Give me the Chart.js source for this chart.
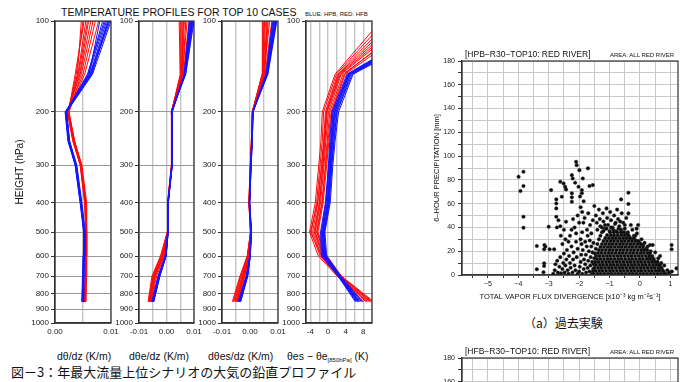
<!DOCTYPE html>
<html>
<head>
<meta charset="utf-8">
<script src="https://cdn.jsdelivr.net/npm/chart.js@4.4.1/dist/chart.umd.min.js"></script>
<style>
  body { margin:0; width:690px; height:382px; overflow:hidden; background:#fff; position:relative;
         font-family:"Liberation Sans", Arial, sans-serif; color:#111; }
  canvas { position:absolute; }
  .t { position:absolute; white-space:nowrap; line-height:1; }
  .jp { font-family:"Noto Sans CJK JP", sans-serif; }
  sub { font-size:6px; vertical-align:-2px; }
</style>
</head>
<body>
<div class="t" style="left:61px;top:7px;font-size:10.5px;">TEMPERATURE PROFILES FOR TOP 10 CASES</div>
<div class="t" style="left:305px;top:11px;font-size:6px;">BLUE: HPB, RED: HFB</div>

<canvas id="p1"></canvas>
<canvas id="p2"></canvas>
<canvas id="p3"></canvas>
<canvas id="p4"></canvas>

<div class="t" style="left:57px;top:351px;font-size:10.5px;">dθ/dz (K/m)</div>
<div class="t" style="left:129px;top:351px;font-size:10.5px;">dθe/dz (K/m)</div>
<div class="t" style="left:208px;top:351px;font-size:10.5px;">dθes/dz (K/m)</div>
<div class="t" style="left:287px;top:351px;font-size:10.5px;">θes − θe<sub>[850hPa]</sub> (K)</div>
<div class="t jp" style="left:11px;top:365px;font-size:13px;">図－3：年最大流量上位シナリオの大気の鉛直プロファイル</div>

<canvas id="s1"></canvas>
<canvas id="s2"></canvas>
<div class="t" style="left:465px;top:50px;font-size:8.5px;">[HPB−R30−TOP10: RED RIVER]</div>
<div class="t" style="left:610px;top:52px;font-size:6px;">AREA: ALL RED RIVER</div>
<div class="t jp" style="left:524px;top:317px;font-size:12px;">（a）過去実験</div>
<div class="t" style="left:465px;top:347px;font-size:8.5px;">[HFB−R30−TOP10: RED RIVER]</div>
<div class="t" style="left:610px;top:349px;font-size:6px;">AREA: ALL RED RIVER</div>

<script>
// pressure levels of the profiles (hPa)
const levels = [850, 700, 600, 500, 400, 300, 250, 200, 150, 100];
const pTicks = [100, 200, 300, 400, 500, 600, 700, 800, 900, 1000];

// d(theta)/dz
const thetaBlue = [
  [0.0049,0.0050,0.0051,0.0052,0.0046,0.0037,0.0024,0.0019,0.0062,0.0096],
  [0.0050,0.0051,0.0052,0.0053,0.0047,0.0038,0.0025,0.0020,0.0060,0.0090],
  [0.0048,0.0049,0.0050,0.0051,0.0045,0.0036,0.0023,0.0018,0.0064,0.0098],
  [0.0050,0.0050,0.0051,0.0052,0.0046,0.0038,0.0026,0.0021,0.0059,0.0085],
  [0.0049,0.0051,0.0052,0.0053,0.0047,0.0037,0.0025,0.0020,0.0066,0.0094],
  [0.0051,0.0052,0.0053,0.0054,0.0048,0.0039,0.0026,0.0020,0.0061,0.0080],
  [0.0049,0.0050,0.0051,0.0052,0.0046,0.0037,0.0024,0.0019,0.0063,0.0092],
  [0.0050,0.0051,0.0052,0.0053,0.0047,0.0038,0.0025,0.0021,0.0067,0.0100],
  [0.0048,0.0050,0.0051,0.0052,0.0045,0.0036,0.0024,0.0019,0.0058,0.0088],
  [0.0050,0.0051,0.0052,0.0053,0.0047,0.0038,0.0026,0.0020,0.0065,0.0096]
];
const thetaRed = [
  [0.0053,0.0055,0.0055,0.0056,0.0054,0.0046,0.0033,0.0023,0.0042,0.0058],
  [0.0054,0.0056,0.0056,0.0056,0.0055,0.0047,0.0034,0.0024,0.0038,0.0050],
  [0.0052,0.0054,0.0055,0.0055,0.0053,0.0045,0.0032,0.0022,0.0045,0.0064],
  [0.0054,0.0055,0.0056,0.0057,0.0055,0.0047,0.0035,0.0025,0.0040,0.0047],
  [0.0053,0.0055,0.0055,0.0056,0.0054,0.0046,0.0033,0.0023,0.0050,0.0072],
  [0.0055,0.0056,0.0057,0.0057,0.0056,0.0048,0.0035,0.0024,0.0036,0.0052],
  [0.0053,0.0054,0.0055,0.0056,0.0054,0.0046,0.0034,0.0023,0.0044,0.0060],
  [0.0054,0.0055,0.0056,0.0056,0.0055,0.0047,0.0034,0.0025,0.0047,0.0068],
  [0.0052,0.0054,0.0054,0.0055,0.0053,0.0045,0.0032,0.0022,0.0041,0.0055],
  [0.0054,0.0056,0.0056,0.0057,0.0055,0.0047,0.0035,0.0024,0.0053,0.0078]
];

// d(theta_e)/dz
const thetaEBlue = [
  [-0.0050,-0.0028,-0.0003,0.0005,0.0006,0.0020,0.0021,0.0019,0.0067,0.0092],
  [-0.0048,-0.0025,-0.0002,0.0006,0.0005,0.0021,0.0020,0.0018,0.0065,0.0088],
  [-0.0052,-0.0030,-0.0004,0.0005,0.0006,0.0019,0.0021,0.0019,0.0069,0.0097],
  [-0.0046,-0.0024,-0.0001,0.0006,0.0007,0.0021,0.0022,0.0020,0.0064,0.0085],
  [-0.0050,-0.0027,-0.0003,0.0005,0.0005,0.0020,0.0020,0.0018,0.0070,0.0100],
  [-0.0049,-0.0026,-0.0002,0.0006,0.0006,0.0020,0.0021,0.0019,0.0066,0.0090],
  [-0.0053,-0.0031,-0.0005,0.0004,0.0005,0.0019,0.0020,0.0018,0.0068,0.0094],
  [-0.0047,-0.0025,-0.0002,0.0006,0.0006,0.0021,0.0022,0.0020,0.0065,0.0083],
  [-0.0051,-0.0029,-0.0003,0.0005,0.0006,0.0020,0.0021,0.0019,0.0067,0.0096],
  [-0.0048,-0.0026,-0.0002,0.0005,0.0005,0.0020,0.0021,0.0019,0.0066,0.0089]
];
const thetaERed = [
  [-0.0060,-0.0045,-0.0015,0.0004,0.0005,0.0019,0.0020,0.0018,0.0056,0.0060],
  [-0.0065,-0.0050,-0.0020,0.0003,0.0004,0.0018,0.0019,0.0017,0.0052,0.0050],
  [-0.0056,-0.0040,-0.0010,0.0005,0.0006,0.0020,0.0021,0.0019,0.0059,0.0070],
  [-0.0067,-0.0053,-0.0022,0.0003,0.0004,0.0018,0.0019,0.0017,0.0050,0.0046],
  [-0.0058,-0.0042,-0.0012,0.0004,0.0005,0.0019,0.0020,0.0018,0.0058,0.0075],
  [-0.0062,-0.0047,-0.0017,0.0004,0.0005,0.0019,0.0020,0.0018,0.0055,0.0056],
  [-0.0054,-0.0036,-0.0008,0.0005,0.0006,0.0020,0.0021,0.0019,0.0061,0.0082],
  [-0.0064,-0.0049,-0.0019,0.0003,0.0004,0.0018,0.0019,0.0017,0.0053,0.0053],
  [-0.0059,-0.0043,-0.0013,0.0004,0.0005,0.0019,0.0020,0.0018,0.0057,0.0065],
  [-0.0061,-0.0046,-0.0016,0.0004,0.0005,0.0019,0.0020,0.0018,0.0054,0.0062]
];

// d(theta_es)/dz
const thetaESBlue = [
  [-0.0038,-0.0011,0.0000,0.0004,-0.0002,0.0003,0.0007,0.0010,0.0060,0.0090],
  [-0.0035,-0.0009,0.0001,0.0005,-0.0001,0.0004,0.0008,0.0011,0.0058,0.0085],
  [-0.0041,-0.0013,-0.0001,0.0004,-0.0002,0.0003,0.0007,0.0010,0.0062,0.0094],
  [-0.0033,-0.0008,0.0001,0.0005,-0.0001,0.0004,0.0008,0.0011,0.0057,0.0080],
  [-0.0039,-0.0012,0.0000,0.0004,-0.0002,0.0003,0.0007,0.0010,0.0064,0.0096],
  [-0.0036,-0.0010,0.0000,0.0004,-0.0002,0.0003,0.0007,0.0010,0.0059,0.0088],
  [-0.0042,-0.0014,-0.0001,0.0003,-0.0003,0.0002,0.0006,0.0009,0.0061,0.0092],
  [-0.0034,-0.0009,0.0001,0.0005,-0.0001,0.0004,0.0008,0.0011,0.0058,0.0082],
  [-0.0040,-0.0012,0.0000,0.0004,-0.0002,0.0003,0.0007,0.0010,0.0063,0.0093],
  [-0.0037,-0.0010,0.0000,0.0004,-0.0002,0.0003,0.0007,0.0010,0.0060,0.0087]
];
const thetaESRed = [
  [-0.0050,-0.0025,-0.0006,0.0003,-0.0003,0.0002,0.0006,0.0009,0.0048,0.0055],
  [-0.0058,-0.0032,-0.0009,0.0002,-0.0004,0.0001,0.0005,0.0008,0.0044,0.0047],
  [-0.0045,-0.0020,-0.0004,0.0004,-0.0002,0.0003,0.0007,0.0010,0.0052,0.0065],
  [-0.0063,-0.0036,-0.0010,0.0002,-0.0004,0.0001,0.0005,0.0008,0.0043,0.0044],
  [-0.0048,-0.0022,-0.0005,0.0003,-0.0003,0.0002,0.0006,0.0009,0.0050,0.0070],
  [-0.0055,-0.0029,-0.0008,0.0003,-0.0003,0.0002,0.0006,0.0009,0.0046,0.0052],
  [-0.0043,-0.0018,-0.0004,0.0004,-0.0002,0.0003,0.0007,0.0010,0.0054,0.0078],
  [-0.0060,-0.0034,-0.0009,0.0002,-0.0004,0.0001,0.0005,0.0008,0.0045,0.0050],
  [-0.0052,-0.0027,-0.0007,0.0003,-0.0003,0.0002,0.0006,0.0009,0.0049,0.0060],
  [-0.0047,-0.0023,-0.0005,0.0003,-0.0003,0.0002,0.0006,0.0009,0.0051,0.0062]
];

// theta_es - theta_e(850hPa)
const diffBlue = [
  [7.0,2.6,-0.8,-1.0,0.0,0.6,1.0,1.6,4.8,27],
  [6.4,2.4,-1.2,-1.4,-0.4,0.3,0.7,1.2,4.5,26],
  [7.6,2.8,-0.5,-0.8,0.3,0.9,1.4,2.1,5.2,28],
  [6.2,2.3,-1.5,-1.7,-0.6,0.1,0.4,0.9,4.3,25],
  [7.3,2.7,-0.6,-0.9,0.2,0.8,1.3,2.0,5.5,29],
  [6.8,2.5,-1.0,-1.2,-0.2,0.5,0.9,1.5,4.9,27],
  [7.9,2.9,-0.3,-0.7,0.5,1.1,1.6,2.4,5.7,28],
  [6.6,2.4,-1.3,-1.5,-0.5,0.2,0.6,1.1,4.6,26],
  [7.1,2.6,-0.7,-1.1,0.1,0.7,1.1,1.8,5.1,27],
  [6.9,2.5,-0.9,-1.3,-0.1,0.4,0.8,1.4,4.7,25]
];
const diffRed = [
  [9.0,2.6,-1.2,-3.2,-2.0,-1.2,-0.8,-0.3,2.6,16],
  [9.8,2.9,-0.5,-2.6,-1.4,-0.6,-0.2,0.4,3.4,20],
  [8.2,2.3,-1.8,-3.8,-2.6,-1.8,-1.3,-1.0,1.9,13],
  [10.4,3.1,-0.2,-2.3,-1.1,-0.3,0.2,0.9,3.9,21],
  [8.6,2.4,-1.5,-3.5,-2.3,-1.5,-1.0,-0.6,2.2,14],
  [9.4,2.8,-0.8,-2.9,-1.7,-0.9,-0.5,0.1,3.0,18],
  [7.8,2.1,-2.2,-4.2,-2.9,-2.1,-1.6,-1.3,1.6,12],
  [10.1,3.0,-0.4,-2.5,-1.3,-0.5,0.0,0.7,3.7,19],
  [8.9,2.5,-1.0,-3.0,-1.9,-1.1,-0.7,-0.2,2.8,17],
  [9.6,2.7,-1.4,-4.0,-2.4,-1.4,-0.9,-0.4,2.4,15]
];

// scatter: total vapor flux divergence vs 6-hour precipitation
const sparsePts = [
  [-3.99,82.6],[-3.83,86.8],[-3.83,74.8],[-3.93,70.6],[-3.83,49],[-3.83,39.7],
  [-3.39,24.4],[-3.39,4.8],[-3.14,25.2],[-3.15,21.6],[-3.15,9.8],[-3.15,7.6],[-3.17,2.3],[-3.0,40.6],[-3.11,23.8],
  [-2.92,71.4],[-2.97,21.6],[-2.82,21.6],[-2.75,63.6],[-2.75,60.2],[-2.75,56],[-2.75,49],[-2.73,40],[-2.62,41],
  [-2.57,65.8],[-2.62,78.4],[-2.51,77],[-2.46,74.2],[-2.43,72],[-2.24,84],[-2.21,81.2],[-2.13,77.6],[-2.24,61.6],[-2.43,44.8],
  [-2.10,95.2],[-2.08,92.4],[-1.99,88.2],[-1.88,81.2],[-1.71,89.7],[-1.66,74.8],[-1.55,75.6],[-2.24,68.7],[-2.24,65.3],
  [-1.91,71.4],[-1.91,68.7],[-2.02,74.2],[-1.97,66],[-1.85,62],
  [-0.38,69.2],[-0.62,63.6],[-0.38,59.7],[-0.38,51.8],[-0.06,42],[-0.11,39],[0.33,25.2],[0.42,25.2],[0.66,16],
  [1.04,25.2],[1.04,21.6],[1.2,5.6],[0.98,2]
];
const midPts = [
  [-2.85,1],[-2.8,4],[-2.78,9],[-2.72,12],[-2.7,2],[-2.65,7],[-2.62,15],[-2.6,1.5],[-2.55,5],[-2.52,10],
  [-2.5,18],[-2.48,2],[-2.45,8],[-2.42,13],[-2.4,21],[-2.38,4],[-2.35,1],[-2.33,16],[-2.3,10],[-2.28,6],
  [-2.25,24],[-2.22,2],[-2.2,13],[-2.18,19],[-2.15,8],[-2.12,4],[-2.1,28],[-2.08,15],[-2.05,22],[-2.05,1],
  [-2.0,3],[-1.98,7],[-1.95,11],[-1.95,30],[-1.93,17],[-1.92,26],[-1.9,1],[-1.9,36],[-1.88,21],[-1.86,44],
  [-1.85,5],[-1.84,13],[-1.82,48],[-1.8,9],[-1.8,28],[-1.78,17],[-1.77,2],[-1.75,24],[-1.74,38],[-1.72,6],
  [-1.72,33],[-1.7,12],[-1.7,52],[-1.68,20],[-1.66,3],[-1.65,29],[-1.64,42],[-1.63,8],[-1.62,15],[-1.6,24],
  [-1.6,35],[-1.58,1],[-1.57,11],[-1.56,19],[-1.55,46],[-1.54,5],[-1.53,27],
  [-2.2,47],[-2.15,40],[-2.1,35],[-2.05,50],[-2.0,44],[-1.95,57],[-1.9,53],[-2.3,33],[-2.35,28],[-2.45,30],
  [-2.55,26],[-2.25,38],[-2.5,38],[-2.6,33],[-2.68,46],
  [-1.5,58],[-1.45,50],[-1.42,44],[-1.4,38],[-1.35,55],[-1.32,47],[-1.3,41],[-1.25,36],[-1.22,52],[-1.2,45],
  [-1.15,39],[-1.1,56],[-1.08,48],[-1.05,42],[-1.0,37],[-0.98,53],[-0.95,46],[-0.9,40],[-0.85,50],[-0.82,43],
  [-0.78,37],[-0.75,55],[-0.72,47],[-0.68,41],[-0.62,38],[-0.6,52],[-0.55,44],[-0.5,39],[-0.45,48],[-0.4,36],
  [-0.3,42],[-0.25,38],[-0.2,33],[-0.1,35],[0.05,30],[0.15,27],[0.25,24],[0.35,20],[0.5,19],[0.6,14],
  [0.7,10],[0.8,8],[0.9,4],[0.95,2],[1.05,3]
];
// ragged edge of the dense core
const fringePts = [
  [-1.35,30],[-1.4,26],[-1.45,22],[-1.48,18],[-1.5,14],[-1.52,9],[-1.55,3],[-1.3,33],[-1.2,37],[-1.1,39],
  [-0.95,40],[-0.88,38],[-0.7,39],[-0.58,36],[-0.45,34],[-0.35,32],[-0.28,30],[-0.12,29],[-0.02,27],[0.1,25],
  [0.2,22],[0.3,18],[0.4,15],[0.45,12],[0.55,10],[0.65,8],[0.72,5],[0.78,3],[0.85,1],[-1.15,42],
  [-0.8,44],[-0.5,42],[-1.25,40],[-0.65,45],[-0.15,33],[0.08,21],[0.28,14],[0.62,4]
];
// dense core: [precipitation, divergences]
const coreRows = [
  [1,   [-1.52,-1.4,-1.29,-1.17,-1.05,-0.94,-0.82,-0.7,-0.59,-0.47,-0.35,-0.24,-0.12,0.0,0.11,0.23,0.35,0.46,0.58,0.69,0.8]],
  [3.5, [-1.46,-1.34,-1.23,-1.11,-0.99,-0.88,-0.76,-0.64,-0.53,-0.41,-0.29,-0.18,-0.06,0.05,0.17,0.29,0.4,0.52,0.63,0.75]],
  [6,   [-1.5,-1.38,-1.27,-1.15,-1.03,-0.92,-0.8,-0.68,-0.57,-0.45,-0.33,-0.22,-0.1,0.02,0.13,0.25,0.37,0.48,0.6,0.7]],
  [8.5, [-1.44,-1.32,-1.21,-1.09,-0.97,-0.86,-0.74,-0.62,-0.51,-0.39,-0.27,-0.16,-0.04,0.08,0.19,0.31,0.43,0.54,0.64]],
  [11,  [-1.47,-1.36,-1.24,-1.12,-1.01,-0.89,-0.77,-0.66,-0.54,-0.42,-0.31,-0.19,-0.07,0.04,0.16,0.28,0.39,0.5,0.58]],
  [13.5,[-1.41,-1.3,-1.18,-1.06,-0.95,-0.83,-0.71,-0.6,-0.48,-0.36,-0.25,-0.13,-0.01,0.1,0.22,0.34,0.45]],
  [16,  [-1.44,-1.33,-1.21,-1.09,-0.98,-0.86,-0.74,-0.63,-0.51,-0.39,-0.28,-0.16,-0.04,0.07,0.19,0.31,0.4]],
  [18.5,[-1.38,-1.27,-1.15,-1.03,-0.92,-0.8,-0.68,-0.57,-0.45,-0.33,-0.22,-0.1,0.02,0.13,0.25,0.33]],
  [21,  [-1.35,-1.24,-1.12,-1.0,-0.89,-0.77,-0.65,-0.54,-0.42,-0.3,-0.19,-0.07,0.05,0.16,0.24]],
  [23.5,[-1.3,-1.18,-1.06,-0.95,-0.83,-0.71,-0.6,-0.48,-0.36,-0.25,-0.13,-0.01,0.1]],
  [26,  [-1.25,-1.13,-1.01,-0.9,-0.78,-0.66,-0.55,-0.43,-0.31,-0.2,-0.08,0.03]],
  [28.5,[-1.2,-1.08,-0.96,-0.85,-0.73,-0.61,-0.5,-0.38,-0.26,-0.15,-0.05]],
  [31,  [-1.14,-1.02,-0.9,-0.79,-0.67,-0.55,-0.44,-0.32,-0.2]],
  [33.5,[-1.08,-0.96,-0.85,-0.73,-0.61,-0.5,-0.38]],
  [36,  [-0.98,-0.86,-0.75,-0.63,-0.52]]
];
const scatterXTicks = [-5.5,-5,-4.5,-4,-3.5,-3,-2.5,-2,-1.5,-1,-0.5,0,0.5,1];
const scatterXLabels = [-5,-4,-3,-2,-1,0,1];
const scatterYTicks = [0,10,20,30,40,50,60,70,80,90,100,110,120,130,140,150,160,170,180];
const scatterYLabels = [0,20,40,60,80,100,120,140,160,180];

Chart.defaults.font.family = '"Liberation Sans", Arial, sans-serif';
Chart.defaults.color = '#222';

const framePlugin = {
  id: 'frame',
  afterDatasetsDraw(chart) {
    const { ctx, chartArea: a } = chart;
    ctx.save();
    ctx.strokeStyle = '#333';
    ctx.lineWidth = 1.2;
    ctx.strokeRect(a.left, a.top, a.right - a.left, a.bottom - a.top);
    ctx.restore();
  }
};

function profileLines(cases, color) {
  return cases.map(vals => ({
    data: levels.map((p, i) => ({ x: vals[i], y: p })),
    showLine: true,
    borderColor: color,
    borderWidth: 1,
    pointRadius: 0,
    tension: 0
  }));
}

function profileChart(id, plotLeft, plotW, xMin, xMax, xTicks, xLabels, fmt, blue, red, withTitle) {
  const yW = withTitle ? 55 : 36;
  const cv = document.getElementById(id);
  cv.width = yW + plotW + 12;
  cv.height = 345;
  cv.style.left = (plotLeft - yW) + 'px';
  cv.style.top = '0px';
  new Chart(cv, {
    type: 'scatter',
    data: { datasets: [...profileLines(blue, '#1414ff'), ...profileLines(red, '#ff0a0a')] },
    options: {
      responsive: false, animation: false, devicePixelRatio: 1,
      layout: { padding: { top: 21, right: 12, bottom: 0, left: 0 } },
      plugins: { legend: { display: false }, tooltip: { enabled: false } },
      scales: {
        x: {
          type: 'linear', min: xMin, max: xMax,
          afterBuildTicks: s => { s.ticks = xTicks.map(v => ({ value: v })); },
          afterFit: s => { s.height = 22; },
          ticks: { callback: v => xLabels.includes(v) ? fmt(v) : '', font: { size: 8 }, maxRotation: 0, autoSkip: false, padding: 4 },
          grid: { color: '#c4c4c4', lineWidth: 1.4, drawTicks: false },
          border: { color: '#333', width: 1.2 }
        },
        y: {
          type: 'logarithmic', reverse: true, min: 100, max: 1000,
          afterBuildTicks: s => { s.ticks = pTicks.map(v => ({ value: v })); },
          afterFit: s => { s.width = yW; },
          ticks: { callback: v => String(v), font: { size: 8 }, autoSkip: false, padding: 2 },
          grid: { color: '#999', lineWidth: 1, tickLength: 4, tickColor: '#333' },
          border: { color: '#333', width: 1.2 },
          title: { display: withTitle, text: 'HEIGHT (hPa)', font: { size: 10 }, color: '#111', padding: { top: 14, bottom: 0 } }
        }
      }
    },
    plugins: [framePlugin]
  });
}

const fmt2 = v => v.toFixed(2);
profileChart('p1', 55, 56, 0, 0.01, [0, 0.005, 0.01], [0, 0.01], fmt2, thetaBlue, thetaRed, true);
profileChart('p2', 139, 55, -0.01, 0.01, [-0.01, -0.005, 0, 0.005, 0.01], [-0.01, 0, 0.01], fmt2, thetaEBlue, thetaERed, false);
profileChart('p3', 222, 56, -0.01, 0.01, [-0.01, -0.005, 0, 0.005, 0.01], [-0.01, 0, 0.01], fmt2, thetaESBlue, thetaESRed, false);
profileChart('p4', 306, 66, -5, 10, [-4, -2, 0, 2, 4, 6, 8, 10], [-4, 0, 4, 8], v => String(v), diffBlue, diffRed, false);

function scatterChart(id, top, points) {
  const cv = document.getElementById(id);
  cv.width = 42 + 216 + 12;
  cv.height = 265;
  cv.style.left = '420px';
  cv.style.top = top + 'px';
  new Chart(cv, {
    type: 'scatter',
    data: { datasets: [{ data: points, pointRadius: 1.8, backgroundColor: '#0a0a0a', borderColor: '#3a3a3a', borderWidth: 0.4 }] },
    options: {
      responsive: false, animation: false, devicePixelRatio: 1,
      layout: { padding: { top: 21, right: 12, bottom: 0, left: 0 } },
      plugins: { legend: { display: false }, tooltip: { enabled: false } },
      scales: {
        x: {
          type: 'linear', min: -5.85, max: 1.25,
          afterBuildTicks: s => { s.ticks = scatterXTicks.map(v => ({ value: v })); },
          afterFit: s => { s.height = 30; },
          ticks: { callback: v => scatterXLabels.includes(v) ? (v < 0 ? '−' + (-v) : String(v)) : '', font: { size: 7 }, maxRotation: 0, autoSkip: false, padding: 2 },
          grid: { color: '#c8c8c8', lineWidth: 1, tickLength: 3, tickColor: '#333' },
          border: { color: '#333', width: 1.2 },
          title: { display: true, text: 'TOTAL VAPOR FLUX DIVERGENCE [x10⁻³ kg m⁻²s⁻¹]', font: { size: 7.5 }, color: '#111', padding: { top: 0, bottom: 4 } }
        },
        y: {
          min: 0, max: 180,
          afterBuildTicks: s => { s.ticks = scatterYTicks.map(v => ({ value: v })); },
          afterFit: s => { s.width = 42; },
          ticks: { callback: v => scatterYLabels.includes(v) ? String(v) : '', font: { size: 7 }, autoSkip: false, padding: 3 },
          grid: { color: '#c8c8c8', lineWidth: 1, tickLength: 4, tickColor: '#333' },
          border: { color: '#333', width: 1.2 },
          title: { display: true, text: '6–HOUR PRECIPITATION [mm]', font: { size: 7.5 }, color: '#111', padding: { top: 12, bottom: 0 } }
        }
      }
    },
    plugins: [framePlugin]
  });
}

const pastPts = [
  ...sparsePts.map(([x, y]) => ({ x, y })),
  ...midPts.map(([x, y]) => ({ x, y })),
  ...fringePts.map(([x, y]) => ({ x, y })),
  ...coreRows.flatMap(([y, xs]) => xs.map(x => ({ x, y })))
];
scatterChart('s1', 40, pastPts);
scatterChart('s2', 337, []);
</script>
</body>
</html>
